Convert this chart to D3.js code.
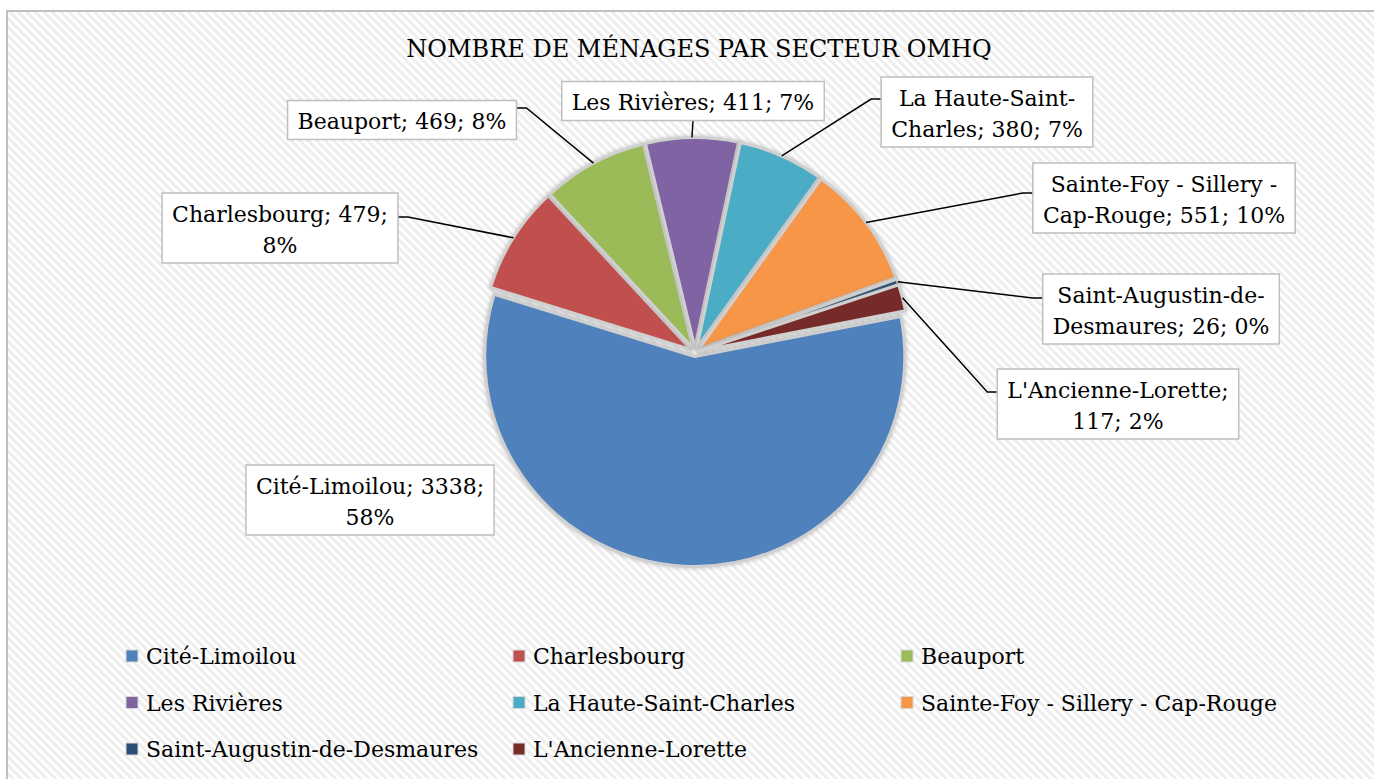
<!DOCTYPE html>
<html>
<head>
<meta charset="utf-8">
<script src="https://cdn.jsdelivr.net/npm/d3@7"></script>
<style>
    html, body { margin: 0; padding: 0; background: #fff; overflow: hidden; }
    svg { display: block; }
    text { font-family: "DejaVu Serif", "Liberation Serif", serif; fill: #000; }
</style>
</head>
<body>
<svg id="chart" width="1374" height="779"></svg>
<script>
let sectors = ["Cité-Limoilou", "Charlesbourg", "Beauport", "Les Rivières", "La Haute-Saint-Charles",
    "Sainte-Foy - Sillery - Cap-Rouge", "Saint-Augustin-de-Desmaures", "L'Ancienne-Lorette"];
let households = [3338, 479, 469, 411, 380, 551, 26, 117];
let colors = ["#4F81BD", "#C0504D", "#9BBB59", "#8064A2", "#4BACC6", "#F79646", "#2C4D75", "#772C2A"];
let title = "NOMBRE DE MÉNAGES PAR SECTEUR OMHQ";

// label box layout: center, where the leader leaves the box, how many tokens on line 1
let labelLayout = [
    {cx: 370, cy: 500, side: "none", dy: 0, wrap: 3},
    {cx: 280, cy: 228, side: "right", dy: -11, wrap: 2},
    {cx: 402, cy: 120, side: "right", dy: -12, wrap: 0},
    {cx: 693, cy: 101, side: "bottom", dy: 0, wrap: 0},
    {cx: 987, cy: 112, side: "left", dy: -13, wrap: 3},
    {cx: 1164, cy: 198, side: "left", dy: -5, wrap: 5},
    {cx: 1161, cy: 309, side: "left", dy: -11, wrap: 3},
    {cx: 1118, cy: 404, side: "left", dy: -12, wrap: 2}
];

let W = 1374, H = 779;
let center = {x: 695, y: 352}, radius = 210, explode = 4.5;
let startDeg = 79;

let svg = d3.select("#chart");
let defs = svg.append("defs");

// diagonal stripes background
let pat = defs.append("pattern")
    .attr("id", "stripes")
    .attr("width", 6).attr("height", 6)
    .attr("patternUnits", "userSpaceOnUse")
    .attr("patternTransform", "rotate(45)");
pat.append("rect").attr("width", 6).attr("height", 6).attr("fill", "#ffffff");
pat.append("rect").attr("width", 6).attr("height", 3).attr("fill", "#eeeeee");

let shadow = defs.append("filter").attr("id", "shadow")
    .attr("x", "-20%").attr("y", "-20%").attr("width", "140%").attr("height", "140%");
shadow.append("feDropShadow")
    .attr("dx", 0).attr("dy", 0).attr("stdDeviation", 2)
    .attr("flood-color", "#888").attr("flood-opacity", 0.55);

svg.append("rect").attr("width", W).attr("height", H).attr("fill", "#fff");
svg.append("rect")
    .attr("x", 7).attr("y", 11)
    .attr("width", W + 20).attr("height", H + 20)
    .attr("fill", "url(#stripes)")
    .attr("stroke", "#c0c0c0").attr("stroke-width", 2);

svg.append("text")
    .attr("x", 699).attr("y", 57)
    .attr("text-anchor", "middle")
    .style("font-size", "24px")
    .text(title);

let data = sectors.map((s, i) => ({name: s, value: households[i], color: colors[i], layout: labelLayout[i]}));
let total = d3.sum(households);

let start = startDeg * Math.PI / 180;
let pie = d3.pie().sort(null).value(d => d.value)
    .startAngle(start).endAngle(start + 2 * Math.PI);
let arc = d3.arc().innerRadius(0).outerRadius(radius);
let arcs = pie(data);

let shift = function (a, r) {
    let m = (a.startAngle + a.endAngle) / 2;
    return {x: Math.sin(m) * r, y: -Math.cos(m) * r};
};

let pieG = svg.append("g").attr("transform", "translate(" + center.x + "," + center.y + ")");
pieG.selectAll("path")
    .data(arcs)
    .enter()
    .append("path")
    .attr("d", arc)
    .attr("transform", d => {
        let s = shift(d, explode);
        return "translate(" + s.x + "," + s.y + ")";
    })
    .attr("fill", d => d.data.color)
    .attr("stroke", "#d0d0d0")
    .attr("stroke-width", 3)
    .attr("stroke-linejoin", "round")
    .attr("filter", "url(#shadow)");

// labels
let fmt = d => d.name + "; " + d.value + "; " + Math.round(d.value / total * 100) + "%";
let lineH = 31, padX = 10;

let labelG = svg.append("g");
arcs.forEach(function (a) {
    let d = a.data, lay = d.layout;
    let tokens = fmt(d).match(/[^\s-]*-?\s*/g).filter(t => t.length);
    let lines = lay.wrap ? [tokens.slice(0, lay.wrap).join("").trim(), tokens.slice(lay.wrap).join("").trim()]
        : [tokens.join("").trim()];

    let g = labelG.append("g");
    let box = g.append("rect");
    let txt = g.append("text")
        .attr("text-anchor", "middle")
        .style("font-size", "22px");
    lines.forEach((l, i) => {
        txt.append("tspan").attr("x", lay.cx).attr("y", 0).attr("dy", i * lineH).text(l);
    });
    let w = d3.max(txt.selectAll("tspan").nodes(), n => n.getComputedTextLength()) + 2 * padX;
    let h = lines.length > 1 ? 70 : 39;
    let x0 = lay.cx - w / 2, y0 = lay.cy - h / 2;
    txt.attr("transform", "translate(0," + (y0 + (lines.length > 1 ? 29 : 28)) + ")");
    box.attr("x", x0).attr("y", y0).attr("width", w).attr("height", h)
        .attr("fill", "#fff").attr("stroke", "#bfbfbf").attr("stroke-width", 1.5);

    if (lay.side === "none") return;
    let e = shift(a, explode + radius);
    let end = [center.x + e.x, center.y + e.y];
    let pts;
    if (lay.side === "bottom") {
        pts = [[lay.cx, y0 + h], end];
    } else {
        let bx = lay.side === "right" ? x0 + w : x0;
        let stub = lay.side === "right" ? bx + 10 : bx - 10;
        let by = lay.cy + lay.dy;
        pts = [[bx, by], [stub, by], end];
    }
    labelG.insert("path", ":first-child")
        .attr("d", d3.line()(pts))
        .attr("fill", "none")
        .attr("stroke", "#000")
        .attr("stroke-width", 1.5);
});

// legend
let legX = [126, 513, 901], legY = [656, 702.5, 749];
let legend = svg.append("g").selectAll("g")
    .data(data)
    .enter()
    .append("g")
    .attr("transform", (d, i) => "translate(" + legX[i % 3] + "," + legY[Math.floor(i / 3)] + ")");
legend.append("rect")
    .attr("x", 0).attr("y", -6)
    .attr("width", 12).attr("height", 12)
    .attr("fill", d => d.color)
    .attr("stroke", "#d8d8d8").attr("stroke-width", 1);
legend.append("text")
    .attr("x", 20).attr("y", 8)
    .style("font-size", "22px")
    .text(d => d.name);
</script>
</body>
</html>
